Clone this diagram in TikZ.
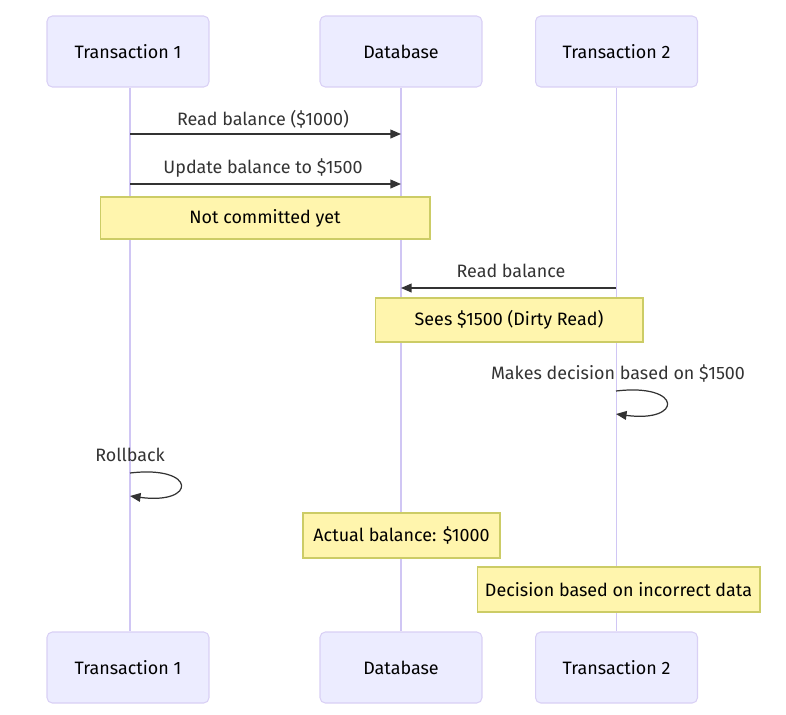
\documentclass[tikz,border=0pt]{standalone}
\usepackage{fontspec}
\setmainfont{Fira Sans}
\usetikzlibrary{arrows.meta}

\definecolor{actorfill}{HTML}{ECECFF}
\definecolor{actorline}{HTML}{D9D0F5}
\definecolor{lifeline}{HTML}{D0C6F4}
\definecolor{notefill}{HTML}{FFF5AD}
\definecolor{noteline}{HTML}{CCCC66}
\definecolor{msgcol}{HTML}{333333}

\tikzset{
  actor/.style = {draw = actorline, fill = actorfill, rounded corners = 3pt, line width = 0.6pt,
                  minimum width = 3.24cm, minimum height = 1.42cm, inner sep = 0pt},
  note/.style  = {draw = noteline, fill = notefill, line width = 0.6pt, inner sep = 0pt},
  life/.style  = {draw = lifeline, line width = 1pt},
  msg/.style   = {draw = msgcol, line width = 0.7pt, -{Triangle[length = 6pt, width = 5pt]}},
  msglabel/.style = {text = msgcol, inner sep = 0pt}
}

\begin{document}
\begin{tikzpicture}[x = 0.02cm, y = -0.02cm, every node/.append style = {font = \fontsize{10.2}{12}\selectfont}]

  \useasboundingbox (0, 0) rectangle (786, 714);

  % participants
  \node [actor] (t1top) at (128, 51.5) { Transaction 1 };
  \node [actor] (dbtop) at (401, 51.5) { Database };
  \node [actor] (t2top) at (616.5, 51.5) { Transaction 2 };

  \node [actor] (t1bot) at (128, 667.5) { Transaction 1 };
  \node [actor] (dbbot) at (401, 667.5) { Database };
  \node [actor] (t2bot) at (616.5, 667.5) { Transaction 2 };

  \draw [life] (t1top.south) ++(2, 0) coordinate (t1start) -- (t1bot.north -| t1start);
  \draw [life] (dbtop.south) -- (dbbot.north);
  \draw [life] (t2top.south) -- (t2bot.north);

  % notes
  \node [note, minimum width = 6.6cm,  minimum height = 0.84cm] (notcommitted) at (265, 218)   { Not committed yet };

  % messages
  \coordinate (t1read)   at (130, 134);
  \coordinate (dbread)   at (401, 134);
  \coordinate (t1upd)    at (130, 184);
  \coordinate (dbupd)    at (401, 184);
  \coordinate (t2dirty)  at (616, 288);
  \coordinate (dbdirty)  at (401, 288);

  \node [msglabel] (readlbl)  at (263, 119) { Read balance (\$1000) };
  \draw [msg] (t1read) -- (dbread);

  \node [msglabel] (updlbl)   at (263, 168) { Update balance to \$1500 };
  \draw [msg] (t1upd) -- (dbupd);

  \node [msglabel] (dirtylbl) at (511, 271) { Read balance };
  \draw [msg] (t2dirty) -- (dbdirty);

  \node [note, minimum width = 5.36cm, minimum height = 0.88cm] (sees) at (509, 320) { Sees \$1500 (Dirty Read) };

  \node [msglabel] (decidelbl) at (618, 373) { Makes decision based on \$1500 };
  \coordinate (t2loopa) at (616, 391);
  \coordinate (t2loopb) at (616, 414);
  \draw [msg] (t2loopa) .. controls (683, 383) and (683, 423) .. (t2loopb);

  \node [msglabel] (rollbacklbl) at (130, 455) { Rollback };
  \coordinate (t1loopa) at (130, 473);
  \coordinate (t1loopb) at (130, 496);
  \draw [msg] (t1loopa) .. controls (197, 465) and (197, 505) .. (t1loopb);

  \node [note, minimum width = 3.94cm, minimum height = 0.9cm] (actual)   at (401.5, 535.5) { Actual balance: \$1000 };
  \node [note, minimum width = 5.66cm, minimum height = 0.9cm] (incorrect) at (618.5, 589.5) { Decision based on incorrect data };

\end{tikzpicture}
\end{document}
